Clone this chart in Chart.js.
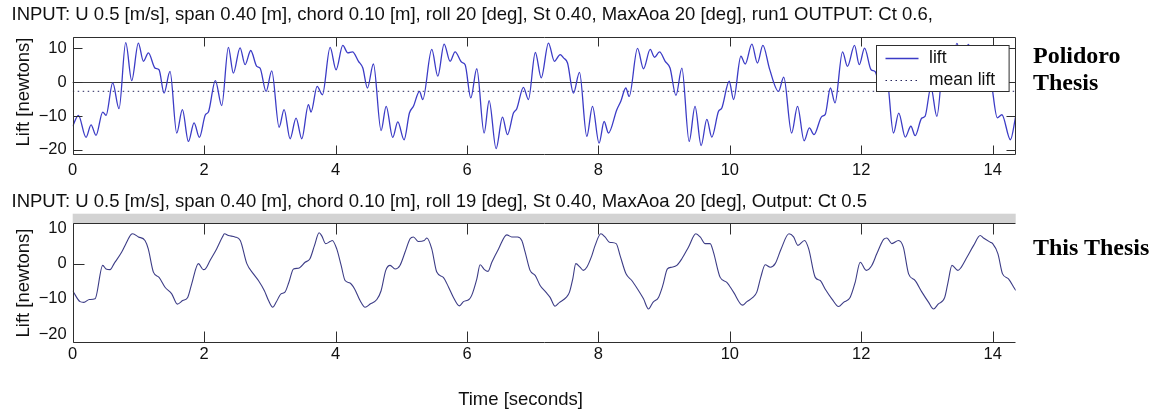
<!DOCTYPE html>
<html>
<head>
<meta charset="utf-8">
<title>Lift comparison</title>
<script src="https://cdn.jsdelivr.net/npm/chart.js@4.4.1/dist/chart.umd.min.js"></script>
<style>
html,body{margin:0;padding:0;background:#fff;}
#wrap{position:relative;width:1162px;height:414px;overflow:hidden;font-family:"Liberation Sans",Arial,sans-serif;color:#111;}
#wrap canvas{position:absolute;left:0;top:0;}
.txt{position:absolute;white-space:nowrap;line-height:1;}
.cap{font-size:18.5px;}
.thesis{font-family:"Liberation Serif","Times New Roman",serif;font-weight:bold;font-size:24px;color:#000;}
.ylab{font-size:18.5px;transform:translate(-50%,-50%) rotate(-90deg);}
</style>
</head>
<body>
<div id="wrap">
  <canvas id="topCanvas" width="1162" height="414"></canvas>
  <canvas id="botCanvas" width="1162" height="414"></canvas>
  <div class="txt cap" style="left:11.5px;top:5px;">INPUT: U 0.5 [m/s], span 0.40 [m], chord 0.10 [m], roll 20 [deg], St 0.40, MaxAoa 20 [deg], run1 OUTPUT: Ct 0.6,</div>
  <div class="txt cap" style="left:11.5px;top:191.5px;">INPUT: U 0.5 [m/s], span 0.40 [m], chord 0.10 [m], roll 19 [deg], St 0.40, MaxAoa 20 [deg], Output: Ct 0.5</div>
  <div class="txt thesis" style="left:1033px;top:43.2px;">Polidoro</div>
  <div class="txt thesis" style="left:1033px;top:70px;">Thesis</div>
  <div class="txt thesis" style="left:1033px;top:235px;">This Thesis</div>
  <div class="txt ylab" style="left:22.5px;top:92px;">Lift [newtons]</div>
  <div class="txt ylab" style="left:22.5px;top:283px;">Lift [newtons]</div>
  <div class="txt cap" style="left:420px;top:389.5px;width:201px;text-align:center;">Time [seconds]</div>
</div>
<script>
// ---------- measured lift, upper run ----------
const topTime=[0.000,0.086,0.203,0.279,0.355,0.457,0.507,0.609,0.705,0.807,0.898,0.999,1.076,1.152,1.253,1.314,1.390,1.481,
  1.583,1.669,1.761,1.847,1.928,2.019,2.065,2.171,2.268,2.369,2.445,2.547,2.623,2.709,2.801,2.851,2.943,3.029,
  3.141,3.217,3.308,3.399,3.486,3.587,3.627,3.720,3.800,3.917,4.008,4.110,4.186,4.257,4.349,4.415,4.485,4.576,
  4.693,4.770,4.870,4.947,5.043,5.124,5.185,5.277,5.327,5.464,5.556,5.652,5.743,5.819,5.921,5.972,6.058,6.149,
  6.261,6.337,6.443,6.540,6.616,6.707,6.758,6.859,6.935,7.040,7.130,7.240,7.330,7.418,7.469,7.530,7.620,7.712,
  7.823,7.910,8.010,8.087,8.153,8.280,8.341,8.417,8.468,8.595,8.686,8.788,8.854,8.930,9.016,9.090,9.180,9.270,
  9.381,9.470,9.563,9.650,9.726,9.828,9.878,9.990,10.057,10.168,10.234,10.335,10.420,10.503,10.605,10.740,10.820,
  10.940,11.030,11.130,11.210,11.280,11.400,11.450,11.530,11.600,11.715,11.790,11.897,11.970,12.050,12.150,12.210,
  12.300,12.380,12.490,12.570,12.670,12.755,12.820,12.920,12.970,13.060,13.150,13.270,13.360,13.455,13.540,13.630,
  13.720,13.800,13.880,13.950,14.070,14.140,14.270,14.350];
const topLift=[-13.0,-9.8,-16.3,-12.6,-15.7,-8.8,-9.8,-0.2,-7.8,11.7,0.5,11.6,6.2,8.7,4.2,3.7,-3.2,3.2,
  -15.0,-8.1,-17.5,-12.0,-16.3,-9.6,-8.8,0.5,-6.9,10.3,2.7,10.2,5.2,9.4,4.7,4.2,-2.7,3.4,
  -13.3,-8.1,-16.7,-10.6,-16.7,-6.6,-8.8,-1.2,-3.7,10.3,3.7,10.9,8.7,9.0,6.2,4.2,-1.7,5.4,
  -14.3,-7.1,-16.3,-11.7,-17.0,-9.1,-7.1,-2.7,-5.1,9.7,1.8,11.3,6.2,9.0,5.9,5.2,-4.6,4.0,
  -15.0,-5.4,-19.6,-10.3,-15.5,-9.1,-7.8,-1.5,-5.1,8.8,1.3,11.6,6.2,8.2,7.2,5.7,-3.2,2.9,
  -16.0,-7.1,-18.0,-11.6,-15.0,-8.1,-5.6,-1.7,-4.2,10.0,4.0,9.7,7.4,9.0,6.2,4.2,-3.9,4.2,
  -17.5,-7.1,-18.7,-11.0,-16.2,-8.6,-7.6,0.3,-5.1,7.7,5.4,11.3,5.7,10.9,3.9,-2.7,1.5,
  -15.0,-7.1,-17.3,-13.5,-15.5,-10.1,-9.6,-1.7,-6.1,9.0,4.7,10.9,5.2,10.1,3.7,3.2,
  -2.3,2.5,-15.0,-9.1,-16.2,-13.0,-15.8,-10.6,-10.1,-1.5,-10.1,9.5,3.0,11.5,6.0,11.2,
  5.0,3.0,-2.0,2.0,-10.5,-9.6,-17.0,-10.1];
const meanLift=-2.67;

// ---------- computed lift, lower run ----------
const botTime=[0.000,0.112,0.170,0.254,0.340,0.457,0.507,0.568,0.630,0.746,0.810,0.883,0.913,1.000,1.100,1.150,1.228,1.314,
  1.405,1.507,1.593,1.674,1.750,1.810,1.913,1.989,2.020,2.090,2.190,2.278,2.310,2.370,2.470,2.550,2.650,2.750,
  2.826,2.917,2.980,3.044,3.095,3.170,3.230,3.290,3.360,3.435,3.536,3.610,3.680,3.750,3.790,3.850,3.917,3.950,
  4.018,4.085,4.145,4.220,4.290,4.373,4.450,4.526,4.628,4.693,4.764,4.830,4.906,4.980,5.058,5.134,5.185,5.260,
  5.350,5.390,5.464,5.540,5.640,5.720,5.794,5.885,5.946,6.030,6.070,6.150,6.200,6.266,6.320,6.378,6.480,6.606,
  6.680,6.770,6.834,6.885,6.960,7.040,7.113,7.200,7.265,7.340,7.408,7.510,7.560,7.610,7.656,7.720,7.770,7.823,
  7.900,7.950,8.037,8.100,8.168,8.270,8.330,8.420,8.508,8.595,8.686,8.762,8.830,8.914,8.980,9.050,9.117,9.193,
  9.270,9.370,9.483,9.549,9.625,9.700,9.750,9.853,9.954,10.056,10.193,10.260,10.350,10.410,10.470,10.538,10.615,
  10.690,10.780,10.900,10.970,11.035,11.137,11.200,11.300,11.375,11.450,11.552,11.654,11.730,11.830,11.907,11.984,
  12.075,12.160,12.236,12.340,12.390,12.465,12.567,12.640,12.720,12.820,12.923,13.025,13.100,13.170,13.270,13.320,
  13.380,13.470,13.510,13.610,13.710,13.810,13.860,13.963,14.000,14.080,14.150,14.240,14.320,14.350];
const botLift=[-7.7,-10.8,-11.0,-10.2,-10.0,-0.5,-1.5,-1.7,0.0,3.3,5.7,8.2,8.5,7.6,6.6,4.2,-2.4,-3.9,
  -6.7,-8.6,-11.5,-10.5,-9.6,-5.8,0.0,-1.7,-1.5,0.9,4.2,7.6,8.5,8.0,7.6,6.6,0.0,-2.9,
  -4.8,-7.7,-10.5,-12.4,-11.0,-8.6,-8.1,-5.3,-1.5,-1.3,0.4,1.4,5.2,8.8,7.9,5.7,6.3,6.6,
  4.2,-0.5,-4.8,-5.5,-7.2,-10.5,-12.4,-11.5,-10.2,-7.7,-1.9,-0.5,-1.5,-0.5,3.3,7.1,7.6,6.3,
  6.6,7.3,4.2,-2.4,-3.9,-6.7,-9.6,-12.0,-10.8,-10.2,-9.1,-4.3,-0.3,-1.7,-2.2,0.4,4.2,8.2,
  7.6,7.6,6.6,3.3,-1.9,-3.4,-6.2,-8.1,-9.6,-12.1,-11.0,-9.6,-8.1,-4.3,0.0,-1.0,-1.9,-1.0,
  2.3,5.2,8.5,7.6,6.1,5.7,2.3,-2.9,-4.8,-7.2,-10.0,-12.9,-11.0,-9.6,-6.2,-1.5,-1.0,-0.5,
  1.4,4.7,8.5,7.6,5.7,5.7,3.3,-3.9,-5.3,-8.1,-11.8,-10.8,-9.6,-8.1,-3.9,-0.3,-1.0,
  0.0,4.2,8.5,7.6,5.2,6.6,4.2,-3.9,-4.8,-7.2,-10.0,-12.2,-11.0,-9.6,-5.3,0.4,
  -1.9,-0.5,2.8,6.9,7.3,5.7,6.6,4.7,-2.9,-4.8,-8.1,-11.0,-12.9,-11.5,-9.6,-5.3,
  -0.5,-1.9,-1.3,1.9,5.2,8.0,7.3,6.1,5.7,2.8,-2.9,-4.3,-6.7,-7.6];

// ---------- axis ranges ----------
const xMax=14.35;
const xStep=2, yStep=10;
const topRange=[-21.36,13.3];
const botRange=[-22.43,11.57];

const tickFont={family:"'Liberation Sans', Arial, sans-serif",size:16.5};
const legendFont="17.5px 'Liberation Sans', Arial, sans-serif";
const ink='#111';
const frame='#2e2e2e';

function pts(xs,ys){return xs.map((x,i)=>({x:x,y:ys[i]}));}
function minusSign(v){return String(v).replace('-','\u2212');}

// box, inward ticks, zero line, grey strip and the legend
const axesBox={
  id:'axesBox',
  beforeDatasetsDraw(chart,args,o){
    const c=chart.ctx, a=chart.chartArea, ys=chart.scales.y;
    if(o.zeroLine){
      const y=Math.round(ys.getPixelForValue(0))+0.5;
      c.save();c.strokeStyle='#3a3a3a';c.lineWidth=1;
      c.beginPath();c.moveTo(a.left,y);c.lineTo(a.right,y);c.stroke();c.restore();
    }
  },
  afterDatasetsDraw(chart,args,o){
    const c=chart.ctx, a=chart.chartArea, xs=chart.scales.x, ys=chart.scales.y;
    const L=Math.round(a.left)+0.5, R=Math.round(a.right)-0.5, T=Math.round(a.top)+0.5, B=Math.round(a.bottom)-0.5;
    c.save();
    if(o.strip){
      c.fillStyle='#d3d3d3';
      c.fillRect(a.left,a.top-o.strip,a.right-a.left,o.strip);
    }
    c.strokeStyle=frame;c.lineWidth=1;
    c.beginPath();
    c.moveTo(L,T);c.lineTo(R,T);
    c.moveTo(L,B);c.lineTo(R,B);
    c.moveTo(L,T);c.lineTo(L,B);
    if(o.rightSide){c.moveTo(R,T);c.lineTo(R,B);}
    // x ticks point inward from top and bottom
    xs.ticks.forEach(t=>{
      const x=Math.round(xs.getPixelForValue(t.value))+0.5;
      c.moveTo(x,B);c.lineTo(x,B-o.len);
      c.moveTo(x,T);c.lineTo(x,T+o.len);
    });
    ys.ticks.forEach(t=>{
      if(o.yMarks && o.yMarks.indexOf(t.value)<0) return;
      const y=Math.round(ys.getPixelForValue(t.value))+0.5;
      c.moveTo(L,y);c.lineTo(L+o.len,y);
      if(o.rightSide){c.moveTo(R,y);c.lineTo(R-o.len,y);}
    });
    c.stroke();
    if(o.legend){
      const w=132.6,h=46;
      const bx=Math.round(a.right-7.4-w)+0.5, by=Math.round(a.top+8)+0.5;
      c.fillStyle='#fff';c.fillRect(bx,by,w,h);
      c.strokeStyle=frame;c.strokeRect(bx,by,w,h);
      c.font=legendFont;c.textBaseline='middle';c.fillStyle=ink;
      chart.data.datasets.forEach((ds,i)=>{
        const ry=Math.round(by+12.5+i*21.7)+0.5;
        c.strokeStyle=ds.borderColor;c.lineWidth=ds.borderWidth;
        c.setLineDash(ds.borderDash||[]);
        c.beginPath();c.moveTo(bx+9,ry);c.lineTo(bx+42,ry);c.stroke();
        c.setLineDash([]);
        c.fillText(ds.label,bx+52.5,ry);
      });
    }
    c.restore();
  }
};

function baseOptions(padTop,padBottom,range,xPad,box){
  return {
    responsive:false,animation:false,devicePixelRatio:1,
    layout:{padding:{top:padTop,right:1162-1015.7,bottom:padBottom,left:0}},
    plugins:{legend:{display:false},tooltip:{enabled:false},axesBox:box},
    elements:{point:{radius:0},line:{cubicInterpolationMode:'monotone'}},
    scales:{
      x:{type:'linear',min:0,max:xMax,
         ticks:{stepSize:xStep,includeBounds:false,maxRotation:0,padding:xPad,color:ink,font:tickFont},
         grid:{display:false,drawTicks:false},border:{display:false},
         afterFit(s){s.height=30;}},
      y:{type:'linear',min:range[0],max:range[1],
         ticks:{stepSize:yStep,includeBounds:false,padding:6,color:ink,font:tickFont,callback:minusSign},
         grid:{display:false,drawTicks:false},border:{display:false},
         afterFit(s){s.width=72.7;}}
    }
  };
}

new Chart(document.getElementById('topCanvas'),{
  type:'line',
  data:{datasets:[
    {label:'lift',data:pts(topTime,topLift),borderColor:'#3b3bc6',borderWidth:1.3,fill:false},
    {label:'mean lift',data:pts([0,xMax],[meanLift,meanLift]),borderColor:'#25255e',borderWidth:1,borderDash:[1.5,3.5],fill:false}
  ]},
  options:baseOptions(37.3,414-154.5-30,topRange,6.1,{len:9,rightSide:true,zeroLine:true,legend:true}),
  plugins:[axesBox]
});

new Chart(document.getElementById('botCanvas'),{
  type:'line',
  data:{datasets:[
    {label:'lift',data:pts(botTime,botLift),borderColor:'#3c3c86',borderWidth:1.1,fill:false}
  ]},
  options:baseOptions(223,414-342.5-30,botRange,2.1,{len:11,rightSide:false,strip:9.3,yMarks:[0]}),
  plugins:[axesBox]
});
</script>
</body>
</html>
